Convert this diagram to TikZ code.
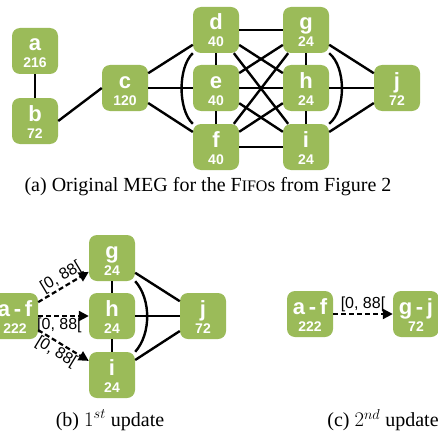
\documentclass[tikz,border=0pt]{standalone}
\usepackage{fontspec}
\setmainfont{Liberation Serif}
\setsansfont{Liberation Sans}
\usetikzlibrary{arrows.meta}
\definecolor{megGreen}{HTML}{9BBB59}
\newcommand{\fifo}[2]{{\fontsize{22}{17}\selectfont #1}\\#2}

\begin{document}
\begin{tikzpicture}[x=1pt,y=1pt,
  fifo/.style={fill=megGreen,rounded corners=8pt,minimum width=46pt,minimum height=46pt,
    inner sep=0pt,align=center,text=white,font=\sffamily\bfseries\fontsize{14}{17}\selectfont,
    text height=34pt,text depth=0pt},
  edge/.style={line width=2.4pt},
  upd/.style={line width=2.2pt,dash pattern=on 5pt off 3pt,-{Triangle[length=10pt,width=10pt]}},
  rng/.style={font=\sffamily\fontsize{16}{16}\selectfont,inner sep=1pt},
  subcap/.style={font=\fontsize{20}{24}\selectfont}]
\useasboundingbox (0,0) rectangle (438,432);
% (a) original MEG
\node[fifo] (a) at (35,381) {\fifo{a}{216}};
\node[fifo] (b) at (35,311) {\fifo{b}{72}};
\node[fifo] (c) at (125,344) {\fifo{c}{120}};
\node[fifo] (d) at (216,402) {\fifo{d}{40}};
\node[fifo] (e) at (216,344) {\fifo{e}{40}};
\node[fifo] (f) at (216,285) {\fifo{f}{40}};
\node[fifo] (g) at (306,402) {\fifo{g}{24}};
\node[fifo] (h) at (306,344) {\fifo{h}{24}};
\node[fifo] (i) at (306,285) {\fifo{i}{24}};
\node[fifo] (j) at (397,344) {\fifo{j}{72}};
\draw[edge] (a) -- (b);
\draw[edge] (b.east) -- (c.west);
\foreach \n in {d,e,f} \draw[edge] (c) -- (\n);
\foreach \n in {d,e,f} \foreach \m in {g,h,i} \draw[edge] (\n) -- (\m);
\draw[edge] (d) -- (e) (e) -- (f) (g) -- (h) (h) -- (i);
\foreach \n in {g,h,i} \draw[edge] (\n) -- (j);
\draw[edge] (d.south west) .. controls +(-15,-14) and +(-15,14) .. (f.north west);
\draw[edge] (g.south east) .. controls +(17,-14) and +(17,14) .. (i.north east);
\node[subcap] (capA) at (208,245) {(a) Original MEG for the F{\fontsize{16}{20}\selectfont IFO}s from Figure 2};
% (b) first update
\node[fifo] (af1) at (15,116) {\fifo{a\,-\,f}{222}};
\node[fifo] (g1) at (112,174) {\fifo{g}{24}};
\node[fifo] (h1) at (112,116) {\fifo{h}{24}};
\node[fifo] (i1) at (112,57) {\fifo{i}{24}};
\node[fifo] (j1) at (203,116) {\fifo{j}{72}};
\draw[edge] (g1) -- (h1) (h1) -- (i1);
\foreach \n in {g1,h1,i1} \draw[edge] (\n) -- (j1);
\draw[edge] (g1.south east) .. controls +(16,-18) and +(16,18) .. (i1.north east);
\draw[upd] (af1) -- node[rng,sloped,above,pos=0.55] {[0, 88[} (g1);
\draw[upd] (af1) -- node[rng,below,pos=0.42] {[0, 88[} (h1);
\draw[upd] (af1) -- node[rng,sloped,below,pos=0.45] {[0, 88[} (i1);
\node[subcap] (capB) at (110,12) {(b) $1^{st}$ update};
% (c) second update
\node[fifo] (af2) at (310,118) {\fifo{a\,-\,f}{222}};
\node[fifo] (gj) at (416,118) {\fifo{g\,-\,j}{72}};
\draw[upd] (af2) -- node[rng,above] {[0, 88[} (gj);
\node[subcap] (capC) at (383,12) {(c) $2^{nd}$ update};
\end{tikzpicture}
\end{document}
